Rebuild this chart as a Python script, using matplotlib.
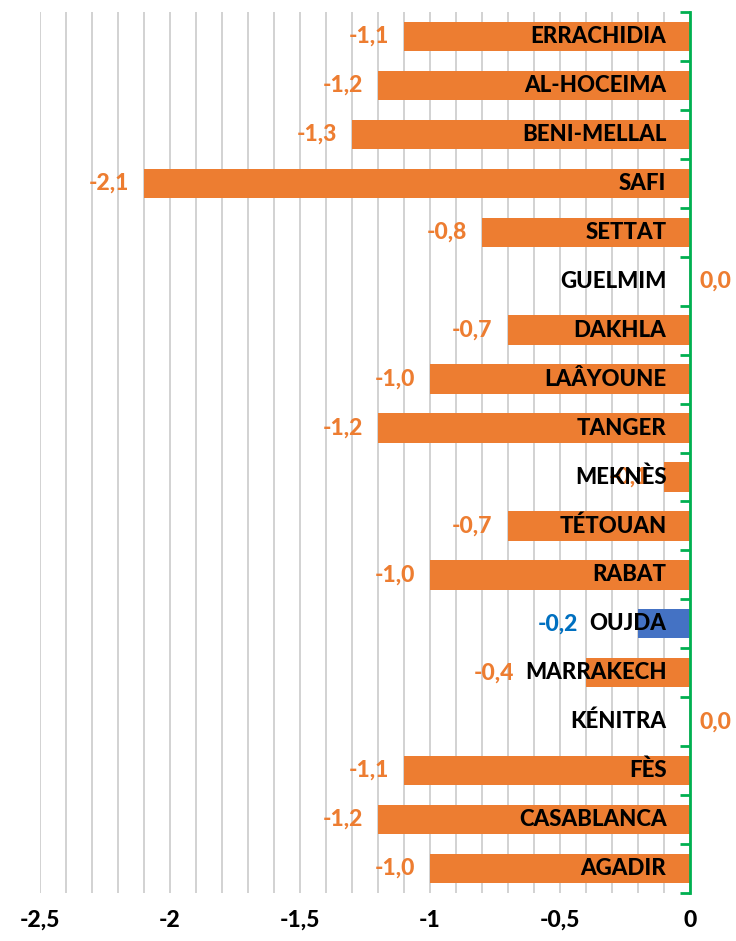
import matplotlib.pyplot as plt
from matplotlib.ticker import MultipleLocator, FuncFormatter

villes = ['ERRACHIDIA', 'AL-HOCEIMA', 'BENI-MELLAL', 'SAFI', 'SETTAT', 'GUELMIM',
          'DAKHLA', 'LAÂYOUNE', 'TANGER', 'MEKNÈS', 'TÉTOUAN', 'RABAT', 'OUJDA',
          'MARRAKECH', 'KÉNITRA', 'FÈS', 'CASABLANCA', 'AGADIR']
valeurs = [-1.1, -1.2, -1.3, -2.1, -0.8, 0.0, -0.7, -1.0, -1.2, -0.1, -0.7, -1.0,
           -0.2, -0.4, 0.0, -1.1, -1.2, -1.0]
surligne = 'OUJDA'
# étiquettes de valeur repoussées à gauche du nom de ville
decales = ['OUJDA', 'MARRAKECH']

orange = '#ED7D31'
bleu = '#4472C4'
bleu_txt = '#0070C0'
vert = '#00B050'
poids = 900

plt.rcParams['font.family'] = ['Lato', 'DejaVu Sans']
plt.rcParams['font.weight'] = poids

fig = plt.figure(figsize=(7.36, 9.41), dpi=100)
ax = fig.add_axes([40 / 736, 1 - 893 / 941, 650 / 736, 881 / 941])

y = list(range(len(villes)))
couleurs = [bleu if v == surligne else orange for v in villes]
ax.barh(y, valeurs, height=0.6, color=couleurs, zorder=2)

ax.set_xlim(-2.5, 0)
ax.set_ylim(len(villes) - 0.5, -0.5)

ax.xaxis.set_major_locator(MultipleLocator(0.5))
ax.xaxis.set_minor_locator(MultipleLocator(0.1))
ax.xaxis.set_major_formatter(FuncFormatter(lambda v, p: f'{v:g}'.replace('.', ',')))
ax.grid(axis='x', which='both', color='#CFCFCF', linewidth=1.3, zorder=0)
ax.tick_params(axis='x', which='both', length=0, pad=12, labelsize=16.5)

for s in ['top', 'bottom', 'left']:
    ax.spines[s].set_visible(False)
ax.spines['right'].set_color(vert)
ax.spines['right'].set_linewidth(2)
ax.spines['right'].set_zorder(4)
ax.yaxis.tick_right()
ax.set_yticks([i - 0.5 for i in range(len(villes) + 1)])
ax.set_yticklabels([])
ax.tick_params(axis='y', direction='in', length=7, width=2, color=vert)

noms = []
for i, v in enumerate(villes):
    noms.append(ax.annotate(v, (0, i), xytext=(-17, 0), textcoords='offset points',
                            ha='right', va='center', color='black', fontsize=16,
                            fontweight=poids, zorder=5))

fig.canvas.draw()
rend = fig.canvas.get_renderer()
inv = ax.transData.inverted()

for i, (v, val) in enumerate(zip(villes, valeurs)):
    coul = bleu_txt if v == surligne else orange
    txt = f'{val:.1f}'.replace('.', ',')
    if val < 0:
        x0, dx = val, -11
        if v in decales:
            bb = noms[i].get_window_extent(rend)
            x0 = inv.transform((bb.x0, 0))[0]
            dx = -8
        ax.annotate(txt, (x0, i), xytext=(dx, 0), textcoords='offset points',
                    ha='right', va='center', color=coul, fontsize=16.5,
                    fontweight=poids, zorder=3)
    else:
        ax.annotate(txt, (0, i), xytext=(7, 0), textcoords='offset points',
                    ha='left', va='center', color=coul, fontsize=16.5,
                    fontweight=poids, annotation_clip=False, zorder=3)

fig.savefig('out.png', dpi=100)
